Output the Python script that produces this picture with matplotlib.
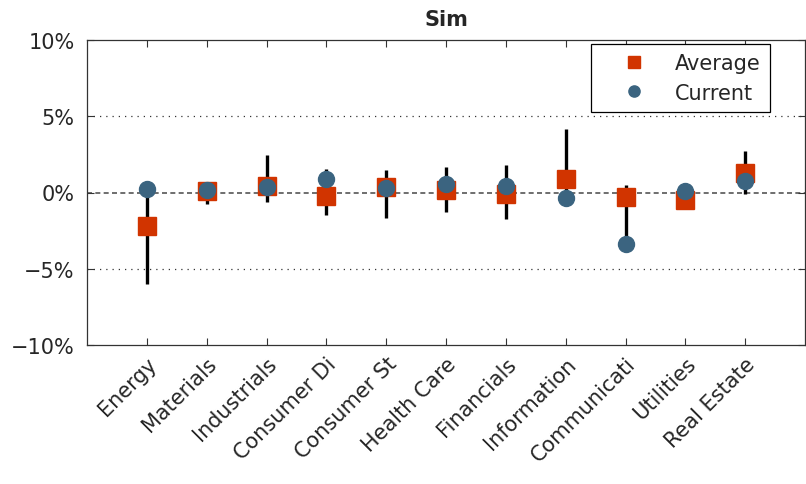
import matplotlib
matplotlib.use("Agg")
import matplotlib.pyplot as plt
from matplotlib.ticker import FuncFormatter

categories = ["Energy", "Materials", "Industrials", "Consumer Di", "Consumer St",
              "Health Care", "Financials", "Information", "Communicati", "Utilities",
              "Real Estate"]
average = [-2.2, 0.07, 0.45, -0.2, 0.33, 0.18, -0.07, 0.87, -0.32, -0.46, 1.28]
current = [0.2, 0.15, 0.33, 0.87, 0.3, 0.55, 0.45, -0.35, -3.4, 0.08, 0.74]
range_low = [-6.0, -0.75, -0.63, -1.46, -1.66, -1.29, -1.73, -0.35, -3.4, -1.07, -0.08]
range_high = [0.2, 0.5, 2.45, 1.55, 1.48, 1.65, 1.8, 4.17, 0.5, 0.1, 2.69]
yticks = [-10, -5, 0, 5, 10]

plt.rcParams['font.family'] = ['DejaVu Sans']
txt = "#262626"
fig = plt.figure(figsize=(8.06, 4.85), dpi=100)
ax = fig.add_axes([87/806, 1-346/485, (805-87)/806, (346-41)/485])

x = list(range(1, len(categories) + 1))
ax.axhline(0, color="#555555", ls=(0, (3, 2)), lw=1.2, zorder=1)
for yv in (-5, 5):
    ax.axhline(yv, color="#333333", ls=(0, (1, 4)), lw=0.9, zorder=1)
ax.vlines(x, range_low, range_high, color="black", lw=2.4, zorder=2)
ax.plot(x, average, ls="none", marker="s", ms=12.5, color="#D13400",
        mec="#D13400", label="Average", zorder=3)
ax.plot(x, current, ls="none", marker="o", ms=11.5, color="#3B6480",
        mec="#3B6480", label="Current", zorder=4)

ax.set_xlim(0, 12)
ax.set_ylim(-10, 10)
ax.set_yticks(yticks)
ax.yaxis.set_major_formatter(FuncFormatter(lambda v, p: f"{v:.0f}%".replace("-", "\u2212")))
ax.set_xticks(x)
ax.set_xticklabels(categories, rotation=45, ha="right", rotation_mode="anchor", fontsize=15)
ax.tick_params(axis="both", direction="in", top=True, right=True, length=5,
               width=0.8, color="#333333", labelcolor=txt)
ax.tick_params(axis="y", labelsize=15, pad=9)
ax.tick_params(axis="x", pad=6)
for s in ax.spines.values():
    s.set_color("#333333")
    s.set_linewidth(0.9)
ax.set_title("Sim", fontsize=15, fontweight="bold", pad=11, color=txt)
leg = ax.legend(loc="upper right", bbox_to_anchor=(0.951, 0.987), borderaxespad=0,
                fontsize=15, frameon=True, fancybox=False,
                edgecolor="black", framealpha=1, borderpad=0.45, handlelength=3.2,
                handletextpad=0.35, labelspacing=0.45, markerscale=0.7)
leg.get_frame().set_linewidth(0.9)
for t in leg.get_texts():
    t.set_color(txt)
fig.savefig("out.png", dpi=100)
